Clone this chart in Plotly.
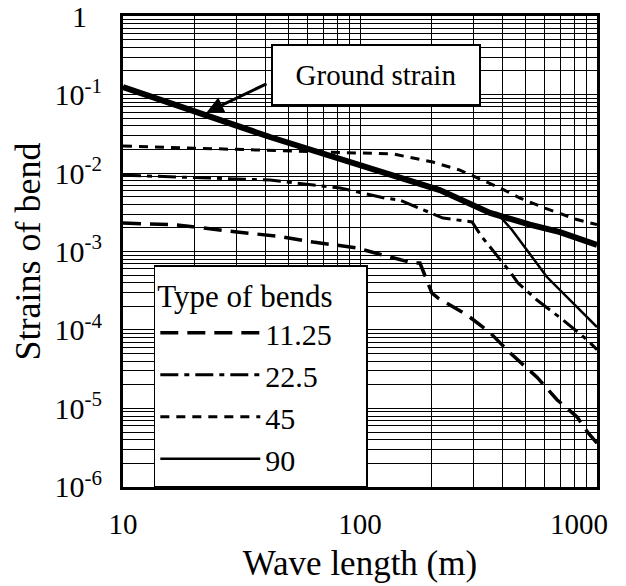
import math
import plotly.graph_objects as go

# Wave length (m) and strain values
ground_x = [10, 41.7, 217, 354, 521, 698, 1000]
ground_y = [0.125, 0.0288, 0.00607, 0.0031, 0.0022, 0.00177, 0.00121]

b1125_x = [10, 16.9, 30.3, 44.7, 63.4, 97, 125, 167, 179, 201, 213, 283, 354, 430, 558, 678, 824, 916, 1000]
b1125_y = [0.00231, 0.00218, 0.00177, 0.00157, 0.00132, 0.00111, 0.0009, 0.000714, 0.000714,
           0.000296, 0.000256, 0.000155, 9.2e-5, 5.1e-5, 2.5e-5, 1.29e-5, 7.8e-6, 4.9e-6, 3.6e-6]

b225_x = [10, 41.7, 82.4, 127, 147, 197, 224, 297, 327, 354, 430, 464, 558, 719, 908, 1000]
b225_y = [0.0094, 0.00814, 0.00644, 0.0048, 0.00453, 0.00318, 0.00267, 0.00238, 0.00153,
          0.00114, 0.000548, 0.000397, 0.000241, 0.000134, 7.5e-5, 5.6e-5]

b45_x = [10, 77, 138, 203, 264, 390, 473, 603, 807, 1000]
b45_y = [0.0221, 0.0185, 0.0175, 0.0138, 0.0109, 0.00645, 0.0048, 0.00358, 0.0026, 0.0022]

b90_x = [10, 41.7, 217, 354, 378, 438, 615, 1000]
b90_y = [0.125, 0.0288, 0.00607, 0.0031, 0.0031, 0.00188, 0.000473, 0.000109]

x_ticks = [10, 100, 1000]
x_ticktext = ["10", "100", "1000&nbsp;&nbsp;&nbsp;&nbsp;&nbsp;"]
y_ticks = [1e-6, 1e-5, 1e-4, 1e-3, 1e-2, 1e-1, 1]
y_ticktext = ["10<sup>-6</sup>", "10<sup>-5</sup>", "10<sup>-4</sup>", "10<sup>-3</sup>",
              "10<sup>-2</sup>", "10<sup>-1</sup>", "1&nbsp;&nbsp;"]

# annotation anchor points (wave length, strain)
arrow_tip = (22.6, 0.0598)
arrow_tail = (40.9, 0.14)
label_pos = (117, 0.18)

FONT = "Liberation Serif, Times New Roman, serif"

fig = go.Figure()
fig.add_trace(go.Scatter(x=b1125_x, y=b1125_y, mode="lines", name="11.25",
                         line=dict(color="black", width=3.5, dash="18px,9px")))
fig.add_trace(go.Scatter(x=b225_x, y=b225_y, mode="lines", name="22.5",
                         line=dict(color="black", width=3, dash="18px,6px,5px,6px")))
fig.add_trace(go.Scatter(x=b45_x, y=b45_y, mode="lines", name="45",
                         line=dict(color="black", width=3, dash="9px,7px")))
fig.add_trace(go.Scatter(x=b90_x, y=b90_y, mode="lines", name="90",
                         line=dict(color="black", width=2.5)))
fig.add_trace(go.Scatter(x=ground_x, y=ground_y, mode="lines", name="Ground strain",
                         showlegend=False, line=dict(color="black", width=6)))

L = math.log10
# Arrow pointing to the ground strain line (log axes -> log10 coordinates)
fig.add_annotation(x=L(arrow_tip[0]), y=L(arrow_tip[1]), xref="x", yref="y",
                   ax=L(arrow_tail[0]), ay=L(arrow_tail[1]), axref="x", ayref="y",
                   text="", showarrow=True, arrowhead=2, arrowsize=1.1,
                   arrowwidth=3, arrowcolor="black")
fig.add_annotation(x=L(label_pos[0]), y=L(label_pos[1]), xref="x", yref="y",
                   text="Ground strain", showarrow=False,
                   font=dict(family=FONT, size=29, color="black"),
                   bgcolor="white", bordercolor="black", borderwidth=2,
                   width=206, height=58, borderpad=0)

fig.update_xaxes(type="log", range=[1, 3], tickvals=x_ticks, ticktext=x_ticktext,
                 showline=True, linecolor="black", linewidth=3, mirror=True,
                 showgrid=True, gridcolor="black", gridwidth=1,
                 ticks="", ticklabelstandoff=9, ticklabeloverflow="allow", automargin=False,
                 minor=dict(dtick="D1", showgrid=True, gridcolor="black", gridwidth=1, ticks=""),
                 tickfont=dict(family=FONT, size=29, color="black"),
                 title=dict(text="Wave length (m)", font=dict(family=FONT, size=35, color="black"),
                            standoff=12),
                 zeroline=False)
fig.update_yaxes(type="log", range=[-6.002, 0.002], tickvals=y_ticks, ticktext=y_ticktext,
                 showline=True, linecolor="black", linewidth=3, mirror=True,
                 showgrid=True, gridcolor="black", gridwidth=1,
                 ticks="", ticklabelstandoff=12, ticklabeloverflow="allow", automargin=False,
                 minor=dict(dtick="D1", showgrid=True, gridcolor="black", gridwidth=1, ticks=""),
                 tickfont=dict(family=FONT, size=30, color="black"),
                 title=dict(text="Strains of bend", font=dict(family=FONT, size=36, color="black"),
                            standoff=10),
                 zeroline=False)

fig.update_layout(
    width=618, height=578,
    margin=dict(l=115, r=29, t=8, b=99, autoexpand=False),
    paper_bgcolor="white", plot_bgcolor="white",
    font=dict(family=FONT, color="black"),
    legend=dict(x=0.065, y=0, xanchor="left", yanchor="bottom",
                bgcolor="white", bordercolor="black", borderwidth=1.5,
                font=dict(family=FONT, size=30, color="black"),
                title=dict(text="Type of bends&nbsp;&nbsp;&nbsp;&nbsp;",
                           font=dict(family=FONT, size=31, color="black")),
                itemwidth=100, tracegroupgap=0),
)

fig.write_html("out.html")
